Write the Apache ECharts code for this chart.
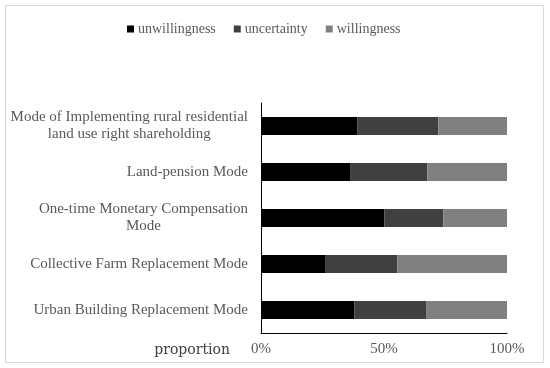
<!DOCTYPE html>
<html>
<head>
<meta charset="utf-8">
<script src="https://cdn.jsdelivr.net/npm/echarts@6/dist/echarts.min.js"></script>
<style>html,body{margin:0;padding:0;background:#fff}#c{width:550px;height:368px}</style>
</head>
<body>
<div id="c"></div>
<script>
const categories = [
  "Mode of Implementing rural residential\nland use right shareholding",
  "Land-pension Mode",
  "One-time Monetary Compensation\nMode",
  "Collective Farm Replacement Mode",
  "Urban Building Replacement Mode"
];
const unwillingness = [39.1, 36.2, 50.1, 26.3, 37.9];
const uncertainty = [33.0, 31.4, 24.0, 29.1, 29.2];
const willingness = [27.9, 32.4, 25.9, 44.6, 32.9];
const xTicks = [0, 50, 100];

const serif = "'Liberation Serif', 'Times New Roman', serif";
const txt = '#595959';
const chart = echarts.init(document.getElementById('c'));
const mk = (name, data, color) => ({
  name, type: 'bar', stack: 'total', data, barWidth: 18,
  itemStyle: { color }
});
chart.setOption({
  animation: false,
  graphic: [{
    type: 'rect', shape: { x: 5.5, y: 5.5, width: 538, height: 357 },
    style: { fill: 'none', stroke: '#d9d9d9', lineWidth: 1 }, z: -1
  }],
  legend: {
    top: 17, left: 122, itemWidth: 7, itemHeight: 7, itemGap: 18,
    icon: 'rect',
    textStyle: { fontFamily: serif, fontSize: 14, color: txt, padding: [0, 0, 0, -1] },
    data: ['unwillingness', 'uncertainty', 'willingness']
  },
  grid: { left: 261, right: 43, top: 103, bottom: 35, containLabel: false },
  xAxis: {
    type: 'value', min: 0, max: 100, interval: 50,
    axisLine: { show: true, lineStyle: { color: '#000', width: 1 } },
    axisTick: { show: false },
    splitLine: { show: false },
    axisLabel: {
      margin: 9, fontFamily: serif, fontSize: 15, color: txt,
      formatter: v => xTicks.includes(v) ? v + '%' : ''
    },
    name: 'proportion', nameLocation: 'start', nameGap: 31,
    nameTextStyle: { fontFamily: "'DejaVu Serif', serif", fontSize: 14, color: '#404040', verticalAlign: 'top', padding: [10, 0, 0, 0] }
  },
  yAxis: {
    type: 'category', data: categories, inverse: true,
    axisLine: { show: true, lineStyle: { color: '#000', width: 1 } },
    axisTick: { show: false },
    axisLabel: {
      margin: 13, fontFamily: serif, fontSize: 15, color: txt, lineHeight: 17,
      formatter: v => v.split('\n').map(l => '{c|' + l + '}').join('\n'),
      rich: { c: { align: 'center', fontFamily: serif, fontSize: 15, color: txt, lineHeight: 17 } }
    }
  },
  series: [
    mk('unwillingness', unwillingness, '#000000'),
    mk('uncertainty', uncertainty, '#404040'),
    mk('willingness', willingness, '#808080')
  ]
});
</script>
</body>
</html>
